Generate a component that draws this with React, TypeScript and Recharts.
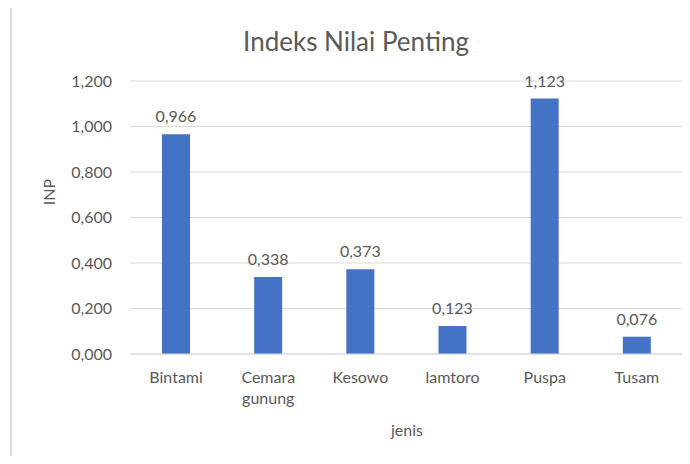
import { Bar, BarChart, CartesianGrid, LabelList, XAxis, YAxis } from "recharts"

const categories = ["Bintami", "Cemara gunung", "Kesowo", "lamtoro", "Puspa", "Tusam"]
const inpValues = [0.966, 0.338, 0.373, 0.123, 1.123, 0.076]
const yTicks = [0, 0.2, 0.4, 0.6, 0.8, 1.0, 1.2]

const data = categories.map((jenis, i) => ({ jenis, inp: inpValues[i] }))

const FONT = "Lato, 'Liberation Sans', sans-serif"
const GREY = "#595959"

const fmt = (v: number) => v.toFixed(3).replace(".", ",")

function CategoryTick(props: any) {
  const { x, y, payload } = props
  const words: string[] = String(payload.value).split(" ")
  return (
    <text x={x} y={y} textAnchor="middle" fill={GREY} fontSize={16} fontFamily={FONT}>
      {words.map((w, i) => (
        <tspan key={i} x={x} dy={i === 0 ? 19 : 21}>
          {w}
        </tspan>
      ))}
    </text>
  )
}

export default function App() {
  return (
    <div style={{ position: "relative", width: 690, height: 464, margin: -8, overflow: "hidden", background: "#fff" }}>
      <div
        style={{
          position: "absolute",
          left: 10,
          top: 5,
          width: 700,
          height: 480,
          border: "2px solid #d9d9d9",
          boxSizing: "border-box",
        }}
      />
      <div
        style={{
          position: "absolute",
          top: 25,
          left: 0,
          width: 712,
          textAlign: "center",
          fontFamily: FONT,
          fontSize: 26,
          color: GREY,
        }}
      >
        Indeks Nilai Penting
      </div>
      <div
        style={{
          position: "absolute",
          left: 0,
          top: 420,
          width: 814,
          textAlign: "center",
          fontFamily: FONT,
          fontSize: 16,
          color: GREY,
        }}
      >
        jenis
      </div>
      <div
        style={{
          position: "absolute",
          left: 48,
          top: 192,
          transform: "translate(-50%, -50%) rotate(-90deg)",
          fontFamily: FONT,
          fontSize: 16,
          color: GREY,
        }}
      >
        INP
      </div>
      <BarChart
        width={690}
        height={464}
        data={data}
        margin={{ top: 81, right: 7, bottom: 80, left: 50 }}
        barCategoryGap={32}
        style={{ position: "absolute", left: 0, top: 0 }}
      >
        <CartesianGrid vertical={false} stroke="#d9d9d9" />
        <XAxis
          dataKey="jenis"
          interval={0}
          tickLine={false}
          axisLine={{ stroke: "#d9d9d9" }}
          tick={<CategoryTick />}
          tickSize={0}
          tickMargin={10}
        />
        <YAxis
          width={80}
          domain={[0, 1.2]}
          ticks={yTicks}
          tickFormatter={fmt}
          axisLine={false}
          tickLine={false}
          tickSize={0}
          tickMargin={18}
          tick={{ fill: GREY, fontSize: 16, fontFamily: FONT }}
        />
        <Bar dataKey="inp" fill="#4472C4" isAnimationActive={false}>
          <LabelList
            dataKey="inp"
            position="top"
            offset={12}
            formatter={(v: any) => fmt(Number(v))}
            style={{ fill: GREY, fontSize: 16, fontFamily: FONT }}
          />
        </Bar>
      </BarChart>
    </div>
  )
}
